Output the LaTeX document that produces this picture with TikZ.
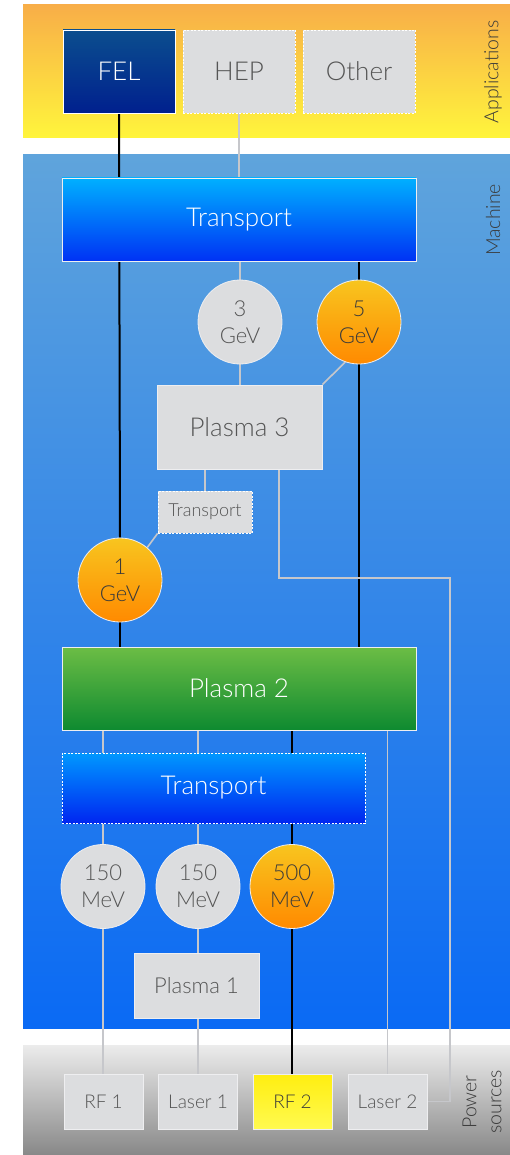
\documentclass[tikz,border=0pt]{standalone}
\usepackage{fontspec}
\setmainfont{Lato}[UprightFont={* Light}]
\usetikzlibrary{calc}
\pgfdeclarelayer{bands}
\pgfdeclarelayer{lines}
\pgfsetlayers{bands,lines,main}
\definecolor{appTop}{HTML}{F8AE48}
\definecolor{appBot}{HTML}{FFF53C}
\definecolor{macTop}{HTML}{5FA4DC}
\definecolor{macBot}{HTML}{0A6AF4}
\definecolor{powTop}{HTML}{ECECEC}
\definecolor{powBot}{HTML}{888888}
\definecolor{boxgray}{HTML}{DCDDDF}
\definecolor{textgray}{HTML}{555555}
\definecolor{textdark}{HTML}{3A3A3A}
\definecolor{felTop}{HTML}{0B4E8E}
\definecolor{felBot}{HTML}{00208E}
\definecolor{trTop}{HTML}{00B0FF}
\definecolor{trBot}{HTML}{0032F4}
\definecolor{tr3Top}{HTML}{0098FF}
\definecolor{tr3Bot}{HTML}{0026F0}
\definecolor{grTop}{HTML}{6CBD45}
\definecolor{grBot}{HTML}{0E8A30}
\definecolor{orTop}{HTML}{F8C51F}
\definecolor{orBot}{HTML}{FF8A00}
\definecolor{yeTop}{HTML}{FFEE10}
\definecolor{yeBot}{HTML}{FFFA50}
\definecolor{lineGray}{HTML}{C6C7CB}
\definecolor{edge}{HTML}{EEEEF0}
\begin{document}
\begin{tikzpicture}[x=1pt,y=-1pt,
  box/.style={draw=edge, line width=0.8pt, inner sep=0pt, align=center, font=\fontsize{26}{30}\selectfont},
  graybox/.style={box, fill=boxgray, text=textgray},
  dashbox/.style={graybox, draw=white, dash pattern=on 2pt off 1.5pt},
  circ/.style={circle, minimum size=84pt, inner sep=0pt, draw=edge, line width=0.8pt, align=center, font=\fontsize{22}{27}\selectfont},
  orcirc/.style={circ, top color=orTop, bottom color=orBot, text=textdark},
  graycirc/.style={circ, fill=boxgray, text=textgray},
  gline/.style={draw=lineGray, line width=1.6pt},
  bline/.style={draw=black, line width=2pt},
  psbox/.style={graybox, minimum width=79pt, minimum height=55pt, font=\fontsize{19}{22}\selectfont},
  bandlabel/.style={rotate=90, font=\fontsize{19.5}{24}\selectfont, text=textdark, align=center}
]
\useasboundingbox (0,0) rectangle (510,1155);

% bands
\begin{pgfonlayer}{bands}
  \fill[white] (0,0) rectangle (510,1155);
  \shade[top color=appTop, bottom color=appBot] (23,5) rectangle (510,138);
  \shade[top color=macTop, bottom color=macBot] (23,155) rectangle (510,1028);
  \shade[top color=powTop, bottom color=powBot] (23,1045) rectangle (510,1155);
\end{pgfonlayer}

\node[bandlabel] (lapp) at (493,72) {Applications};
\node[bandlabel] (lmac) at (493,220) {Machine};
\node[bandlabel, font=\fontsize{19.5}{25}\selectfont] (lpow) at (482,1102) {Power\\sources};

% application nodes
\node[box, minimum width=112pt, minimum height=83pt, top color=felTop, bottom color=felBot, text=white, draw=white] (fel) at (119,71.5) {FEL};
\node[dashbox, minimum width=112pt, minimum height=83pt] (hep) at (239,71.5) {HEP};
\node[dashbox, minimum width=112pt, minimum height=83pt] (other) at (359,71.5) {Other};

% machine nodes
\node[box, minimum width=354pt, minimum height=83pt, top color=trTop, bottom color=trBot, text=white] (tr1) at (239,219.5) {Transport};
\node[graycirc] (g3) at (240,322) {3\\GeV};
\node[orcirc] (g5) at (359,322) {5\\GeV};
\node[graybox, minimum width=165pt, minimum height=84pt] (p3) at (239.5,427) {Plasma 3};
\node[dashbox, minimum width=94pt, minimum height=42pt, font=\fontsize{18}{20}\selectfont] (tr2) at (205,512) {Transport};
\node[orcirc] (g1) at (120,580) {1\\GeV};
\node[box, minimum width=354pt, minimum height=83pt, top color=grTop, bottom color=grBot, text=white] (p2) at (239,688.5) {Plasma 2};
\node[box, minimum width=303pt, minimum height=70pt, top color=tr3Top, bottom color=tr3Bot, text=white, draw=white, dash pattern=on 2pt off 1.5pt] (tr3) at (213.5,788) {Transport};
\node[graycirc] (m1) at (103,886.5) {150\\MeV};
\node[graycirc] (m2) at (198,886.5) {150\\MeV};
\node[orcirc] (m5) at (292,886.5) {500\\MeV};
\node[graybox, minimum width=125pt, minimum height=65pt, font=\fontsize{22}{25}\selectfont] (p1) at (196.5,985.5) {Plasma 1};

% power sources
\node[psbox] (rf1) at (103.5,1101.5) {RF 1};
\node[psbox] (las1) at (198,1101.5) {Laser 1};
\node[psbox, top color=yeTop, bottom color=yeBot, text=textdark] (rf2) at (292.5,1101.5) {RF 2};
\node[psbox] (las2) at (387.5,1101.5) {Laser 2};

\coordinate (k1) at (279,578);
\coordinate (k2) at (450,578);

% connectors
\begin{pgfonlayer}{lines}
  \draw[bline] (fel.south) -- (g1.north);
  \draw[gline] (hep.south) -- (tr1.north -| hep.south);
  \draw[gline] (g3.north |- tr1.south) -- (g3.north);
  \draw[bline] (g5.north |- tr1.south) -- (g5.north);
  \draw[gline] (g3.south) -- (g3.south |- p3.north);
  \draw[gline] (g5.251) -- (p3.north east);
  \draw[bline] (g5.south) -- (g5.south |- p2.north);
  \draw[gline] (tr2.north |- p3.south) -- (tr2.north);
  \draw[gline] (tr2.south west) -- (g1.50);
  \draw[bline] (g1.south) -- (g1.south |- p2.north);
  \draw[gline] (k1 |- p3.south) -- (k1) -- (k2) -- (k2 |- las2.east) -- (las2.east);
  \draw[gline] (m1.north |- p2.south) -- (m1.north);
  \draw[gline] (m2.north |- p2.south) -- (m2.north);
  \draw[bline] (m5.north |- p2.south) -- (m5.north);
  \draw[gline] (las2.north |- p2.south) -- (las2.north);
  \draw[gline] (m1.south) -- (m1.south |- rf1.north);
  \draw[gline] (m2.south) -- (m2.south |- las1.north);
  \draw[bline] (m5.south) -- (m5.south |- rf2.north);
\end{pgfonlayer}
\end{tikzpicture}
\end{document}
